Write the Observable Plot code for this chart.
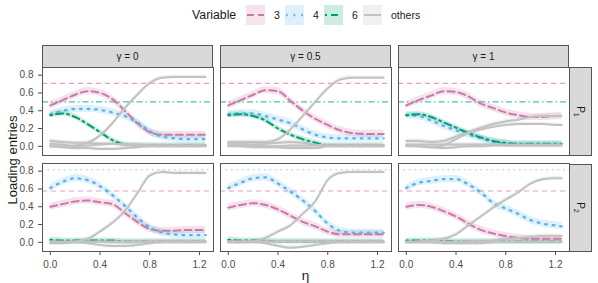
<!DOCTYPE html>
<html><head><meta charset="utf-8">
<script src="https://cdn.jsdelivr.net/npm/d3@7"></script>
<script src="https://cdn.jsdelivr.net/npm/@observablehq/plot@0.6"></script>
<style>
body{margin:0;background:#fff;font-family:"Liberation Sans",Arial,Helvetica,sans-serif;}
#wrap{position:relative;width:598px;height:283px;overflow:hidden;}
#wrap > svg{position:absolute;left:0;top:0;}
.ov{position:absolute;box-sizing:border-box;color:#1a1a1a;white-space:nowrap;}
.strip{background:#d9d9d9;border:1px solid #555;display:flex;align-items:center;justify-content:center;font-size:10px;}
.rot90{display:inline-block;transform:rotate(90deg);}
sub{font-size:0.72em;vertical-align:-0.35em;line-height:0;}
</style></head><body><div id="wrap"></div>
<script>
// ---------------- data ----------------
const eta = [0, 0.1, 0.2, 0.3, 0.4, 0.5, 0.6, 0.7, 0.8, 0.9, 1.0, 1.1, 1.2, 1.25];
const gammaLabels = ["γ = 0", "γ = 0.5", "γ = 1"];
const components = ["P1", "P2"];
const variables = ["3", "4", "6", "others"];
const xTicks = [0, 0.4, 0.8, 1.2];
const yTicks = [0, 0.2, 0.4, 0.6, 0.8];

// P1, gamma = 0
const p1_g0_v3 = [0.46,0.52,0.58,0.62,0.60,0.53,0.40,0.26,0.16,0.13,0.13,0.13,0.13,0.13];
const p1_g0_v4 = [0.36,0.40,0.42,0.42,0.41,0.38,0.34,0.27,0.17,0.11,0.09,0.08,0.08,0.08];
const p1_g0_v6 = [0.35,0.37,0.33,0.25,0.16,0.07,0.02,0.01,0.01,0.01,0.01,0.01,0.01,0.01];
const p1_g0_others = [
  [0.00,0.00,0.01,0.04,0.12,0.26,0.43,0.58,0.71,0.77,0.78,0.78,0.78,0.78],
  [0.06,0.05,0.04,0.04,0.03,0.03,0.02,0.02,0.01,0.01,0.01,0.01,0.01,0.01],
  [0.00,-0.01,-0.02,-0.02,-0.03,-0.03,-0.02,-0.01,0.00,0.00,0.00,0.00,0.00,0.00],
  [0.03,0.02,0.00,0.01,0.02,0.03,0.02,0.01,0.01,0.01,0.01,0.01,0.01,0.01]
];
// P1, gamma = 0.5
const p1_g05_v3 = [0.46,0.52,0.58,0.63,0.62,0.51,0.40,0.31,0.24,0.18,0.15,0.14,0.14,0.14];
const p1_g05_v4 = [0.36,0.37,0.37,0.34,0.30,0.26,0.19,0.13,0.10,0.09,0.09,0.09,0.09,0.09];
const p1_g05_v6 = [0.35,0.36,0.34,0.29,0.20,0.13,0.08,0.04,0.01,0.01,0.01,0.01,0.01,0.01];
const p1_g05_others = [
  [0.05,0.05,0.05,0.05,0.08,0.19,0.34,0.50,0.65,0.75,0.77,0.77,0.77,0.77],
  [0.03,0.03,0.02,0.03,0.04,0.05,0.04,0.02,0.01,0.01,0.01,0.01,0.01,0.01],
  [0.00,0.00,-0.01,-0.01,-0.01,-0.02,-0.02,-0.02,0.00,0.00,0.00,0.00,0.00,0.00],
  [0.01,0.01,0.01,0.00,0.00,0.01,0.01,0.01,0.01,0.01,0.01,0.01,0.01,0.01]
];
// P1, gamma = 1
const p1_g1_v3 = [0.46,0.52,0.57,0.62,0.61,0.56,0.48,0.43,0.38,0.35,0.33,0.33,0.34,0.34];
const p1_g1_v4 = [0.35,0.34,0.29,0.23,0.18,0.13,0.09,0.05,0.03,0.02,0.02,0.02,0.02,0.02];
const p1_g1_v6 = [0.35,0.36,0.33,0.27,0.21,0.15,0.10,0.06,0.04,0.03,0.03,0.03,0.03,0.03];
const p1_g1_others = [
  [0.06,0.06,0.05,0.06,0.11,0.16,0.21,0.25,0.28,0.30,0.33,0.34,0.34,0.34],
  [0.01,0.00,-0.01,0.01,0.08,0.15,0.19,0.22,0.24,0.25,0.25,0.25,0.24,0.24],
  [0.00,0.00,-0.01,-0.02,-0.01,0.00,0.00,0.01,0.01,0.01,0.01,0.01,0.01,0.01],
  [0.02,0.02,0.02,0.02,0.02,0.02,0.02,0.02,0.02,0.02,0.02,0.02,0.02,0.02]
];
// P2, gamma = 0
const p2_g0_v3 = [0.40,0.43,0.46,0.47,0.45,0.43,0.33,0.23,0.15,0.13,0.13,0.14,0.14,0.14];
const p2_g0_v4 = [0.61,0.68,0.72,0.70,0.63,0.53,0.41,0.28,0.17,0.11,0.09,0.08,0.08,0.08];
const p2_g0_v6 = [0.03,0.02,0.02,0.02,0.02,0.02,0.01,0.01,0.01,0.01,0.01,0.01,0.01,0.01];
const p2_g0_others = [
  [0.00,0.00,0.01,0.04,0.12,0.22,0.35,0.55,0.75,0.79,0.78,0.78,0.78,0.78],
  [0.00,0.00,0.00,-0.01,-0.03,-0.04,-0.04,-0.03,-0.01,0.00,0.00,0.00,0.00,0.00],
  [-0.01,-0.01,0.00,0.00,0.01,0.01,0.01,0.01,0.01,0.01,0.01,0.01,0.01,0.01],
  [0.01,0.01,0.01,0.01,0.01,0.00,0.00,0.00,0.01,0.01,0.01,0.01,0.01,0.01]
];
// P2, gamma = 0.5
const p2_g05_v3 = [0.39,0.42,0.44,0.42,0.37,0.30,0.23,0.18,0.12,0.09,0.09,0.09,0.09,0.09];
const p2_g05_v4 = [0.61,0.67,0.72,0.73,0.66,0.57,0.47,0.35,0.21,0.13,0.11,0.11,0.11,0.11];
const p2_g05_v6 = [0.03,0.02,0.02,0.02,0.01,0.01,0.01,0.01,0.01,0.01,0.01,0.01,0.01,0.01];
const p2_g05_others = [
  [0.00,0.00,0.01,0.05,0.12,0.19,0.32,0.46,0.70,0.78,0.79,0.79,0.79,0.79],
  [0.00,0.00,0.00,-0.01,-0.04,-0.06,-0.05,-0.03,-0.01,0.00,0.00,0.00,0.00,0.00],
  [0.01,0.01,0.01,0.01,0.01,0.01,0.01,0.01,0.01,0.01,0.01,0.01,0.01,0.01],
  [0.01,0.01,0.01,0.01,0.01,0.01,0.01,0.01,0.01,0.01,0.01,0.01,0.01,0.01]
];
// P2, gamma = 1
const p2_g1_v3 = [0.40,0.42,0.40,0.35,0.29,0.21,0.14,0.10,0.07,0.05,0.04,0.04,0.04,0.04];
const p2_g1_v4 = [0.61,0.67,0.69,0.71,0.71,0.65,0.56,0.44,0.38,0.32,0.25,0.21,0.19,0.18];
const p2_g1_v6 = [0.02,0.02,0.02,0.02,0.01,0.01,0.01,0.01,0.01,0.01,0.01,0.01,0.01,0.01];
const p2_g1_others = [
  [0.00,0.01,0.02,0.04,0.09,0.19,0.29,0.39,0.48,0.56,0.66,0.71,0.72,0.72],
  [0.00,0.00,0.00,0.00,0.00,0.01,0.01,0.02,0.04,0.05,0.06,0.07,0.07,0.07],
  [0.00,0.00,0.00,-0.01,-0.01,-0.01,-0.01,0.00,0.00,0.00,0.00,0.00,0.00,0.00],
  [0.01,0.01,0.01,0.01,0.01,0.01,0.01,0.01,0.01,0.01,0.01,0.01,0.01,0.01]
];

// true loadings (reference lines)
const refComponent = ["P1", "P1", "P2", "P2"];
const refVariable  = ["3", "6", "4", "3"];
const refValue     = [0.707, 0.5, 0.816, 0.577];

// half-width of the uncertainty ribbons, per variable
const ribbonHalf = [0.04, 0.04, 0.03, 0.02];

// ---------------- table ----------------
const panels = [
  ["P1", 0, p1_g0_v3, p1_g0_v4, p1_g0_v6, p1_g0_others],
  ["P1", 1, p1_g05_v3, p1_g05_v4, p1_g05_v6, p1_g05_others],
  ["P1", 2, p1_g1_v3, p1_g1_v4, p1_g1_v6, p1_g1_others],
  ["P2", 0, p2_g0_v3, p2_g0_v4, p2_g0_v6, p2_g0_others],
  ["P2", 1, p2_g05_v3, p2_g05_v4, p2_g05_v6, p2_g05_others],
  ["P2", 2, p2_g1_v3, p2_g1_v4, p2_g1_v6, p2_g1_others]
];
const rows = [];
for (const [pc, gi, v3, v4, v6, others] of panels) {
  const series = [["3", v3], ["4", v4], ["6", v6], ...others.map(o => ["others", o])];
  series.forEach(([variable, vals], si) => {
    const half = ribbonHalf[variables.indexOf(variable)];
    vals.forEach((v, i) => rows.push({
      pc, gamma: gammaLabels[gi], variable, series: pc + gi + "-" + si,
      eta: eta[i], value: v, lo: v - half, hi: v + half
    }));
  });
}
const refRows = [];
refValue.forEach((v, i) => gammaLabels.forEach(g =>
  refRows.push({pc: refComponent[i], gamma: g, variable: refVariable[i], value: v})));

// ---------------- styles ----------------
const colors = {"3": "#CC79A7", "4": "#56B4E9", "6": "#009E73", "others": "#c2c2c2"};
const refColors = {"3": "#ea9cc1", "4": "#82c9f0", "6": "#45c3b3"};
const dash = {"3": "7,4", "4": "1.6,6", "6": "2,4,7,4", "others": null};
const refDash = {"3": "5,4", "4": "1.5,4", "6": "6,3,1.5,3"};
const lineWidth = {"3": 2, "4": 2.3, "6": 2, "others": 2};
const ribbonOpacity = {"3": 0.22, "4": 0.2, "6": 0.2, "others": 0.3};
const by = v => rows.filter(d => d.variable === v);

const marks = [];
for (const v of ["3", "6", "4"]) {
  marks.push(Plot.ruleY(refRows.filter(d => d.variable === v), {
    y: "value", fx: "gamma", fy: "pc", stroke: refColors[v], strokeWidth: 1.2, strokeDasharray: refDash[v]
  }));
}
for (const v of ["3", "4", "6", "others"]) {
  marks.push(Plot.areaY(by(v), {
    x: "eta", y1: "lo", y2: "hi", z: "series", fx: "gamma", fy: "pc",
    fill: colors[v], fillOpacity: ribbonOpacity[v], curve: "monotone-x"
  }));
}
for (const v of ["3", "4", "6", "others"]) {
  marks.push(Plot.line(by(v), {
    x: "eta", y: "value", z: "series", fx: "gamma", fy: "pc",
    stroke: colors[v], strokeWidth: lineWidth[v], strokeDasharray: dash[v] || undefined,
    curve: "monotone-x"
  }));
}
marks.push(Plot.frame({stroke: "#555", strokeWidth: 1}));

const plot = Plot.plot({
  width: 598, height: 283,
  marginLeft: 42, marginRight: 29, marginTop: 67, marginBottom: 31,
  style: {fontFamily: '"Liberation Sans", Arial, sans-serif', fontSize: "10px", color: "#4d4d4d", background: "transparent"},
  fx: {domain: gammaLabels, paddingInner: 7 / 178, paddingOuter: 0, axis: null, label: null},
  fy: {domain: components, paddingInner: 8 / 96.5, paddingOuter: 0, axis: null, label: null},
  x: {domain: [-0.0625, 1.3125], ticks: xTicks, tickFormat: ".1f", tickSize: 4, label: null},
  y: {domain: [-0.103, 0.886], ticks: yTicks, tickFormat: ".1f", tickSize: 4, label: null},
  marks
});
const wrap = document.getElementById("wrap");
wrap.appendChild(plot);

// ---------------- overlays: strips, titles, legend ----------------
const fx = d3.scaleBand().domain(gammaLabels).range([42, 569]).paddingInner(7 / 178).paddingOuter(0);
const fy = d3.scaleBand().domain(components).range([67, 252]).paddingInner(8 / 96.5).paddingOuter(0);
const W = d3.select(wrap);
gammaLabels.forEach(g => {
  W.append("div").attr("class", "ov strip")
    .style("left", fx(g) + "px").style("top", "45px")
    .style("width", fx.bandwidth() + "px").style("height", "23px")
    .text(g);
});
components.forEach(p => {
  const d = W.append("div").attr("class", "ov strip")
    .style("left", "569px").style("top", fy(p) + "px")
    .style("width", "23px").style("height", fy.bandwidth() + "px");
  const s = d.append("span").attr("class", "rot90");
  s.append("span").text(p[0]);
  s.append("sub").text(p.slice(1));
});
W.append("div").attr("class", "ov").style("left", "12px").style("top", "159.5px")
  .style("font-size", "13px").style("transform", "translate(-50%,-50%) rotate(-90deg)")
  .text("Loading entries");
W.append("div").attr("class", "ov").style("left", "305.5px").style("top", "275px")
  .style("font-size", "13.5px").style("transform", "translate(-50%,-50%)")
  .text("η");

// legend
W.append("div").attr("class", "ov").style("left", "192px").style("top", "15px")
  .style("font-size", "12.3px").style("transform", "translateY(-50%)").text("Variable");
variables.forEach((v, i) => {
  const left = 246 + i * 39;
  const svg = W.append("svg").attr("class", "ov").style("left", left + "px").style("top", "5px")
    .attr("width", 19).attr("height", 20);
  svg.append("rect").attr("width", 19).attr("height", 20).attr("fill", colors[v]).attr("fill-opacity", v === "others" ? 0.25 : 0.2);
  svg.append("line").attr("x1", 1).attr("x2", 18).attr("y1", 10).attr("y2", 10)
    .attr("stroke", colors[v]).attr("stroke-width", lineWidth[v])
    .attr("stroke-dasharray", dash[v] || null);
  W.append("div").attr("class", "ov").style("left", (left + 28) + "px").style("top", "15px")
    .style("font-size", "10.5px").style("transform", "translateY(-50%)").text(v);
});
</script></body></html>
